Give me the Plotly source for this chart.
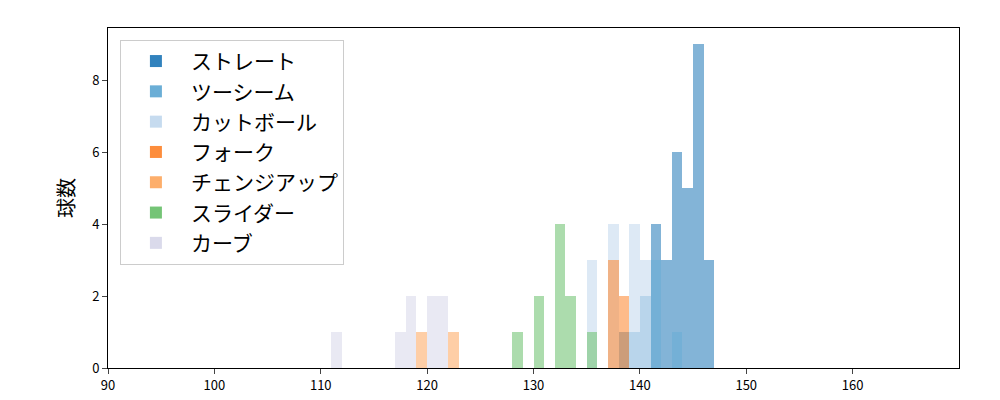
import plotly.graph_objects as go

# bin left edges (km/h) and counts per pitch type
straight_bins = [138, 141, 142, 143, 144, 145, 146]
straight_cnt = [1, 4, 3, 6, 5, 9, 3]
twoseam_bins = [139, 140, 141, 143]
twoseam_cnt = [1, 2, 3, 1]
cut_bins = [135, 137, 139, 140]
cut_cnt = [3, 4, 4, 3]
fork_bins = [137, 138]
fork_cnt = [3, 2]
change_bins = [119, 122]
change_cnt = [1, 1]
slider_bins = [128, 130, 132, 133, 135]
slider_cnt = [1, 2, 4, 2, 1]
curve_bins = [111, 117, 118, 120, 121]
curve_cnt = [1, 1, 2, 2, 2]

series = [
    ("ストレート", straight_bins, straight_cnt, "#3182bd"),
    ("ツーシーム", twoseam_bins, twoseam_cnt, "#6baed6"),
    ("カットボール", cut_bins, cut_cnt, "#c6dbef"),
    ("フォーク", fork_bins, fork_cnt, "#fd8d3c"),
    ("チェンジアップ", change_bins, change_cnt, "#fdae6b"),
    ("スライダー", slider_bins, slider_cnt, "#74c476"),
    ("カーブ", curve_bins, curve_cnt, "#dadaeb"),
]

fig = go.Figure()
for name, b, c, col in series:
    fig.add_trace(go.Bar(x=[v + 0.5 for v in b], y=c, width=1, name=name,
                         marker=dict(color=col, opacity=0.6, line=dict(width=0))))

font = "Noto Sans CJK JP"
fig.update_layout(
    width=1000, height=400, barmode="overlay", bargap=0,
    plot_bgcolor="white", paper_bgcolor="white",
    margin=dict(l=100, r=49, t=20, b=40, autoexpand=False),
    font=dict(family=font, size=13, color="#000"),
    showlegend=True,
    legend=dict(x=0.014, y=0.965, xanchor="left", yanchor="top",
                bgcolor="rgba(255,255,255,0.8)", bordercolor="#cccccc", borderwidth=1,
                font=dict(size=21, family=font), itemwidth=60),
    xaxis=dict(range=[90, 170], tickvals=[90, 100, 110, 120, 130, 140, 150, 160],
               ticks="outside", ticklen=5, showgrid=False, zeroline=False, automargin=False,
               showline=True, linecolor="#000", mirror=True, tickfont=dict(size=13)),
    yaxis=dict(range=[0, 9.45], tickvals=[0, 2, 4, 6, 8], ticks="outside", ticklen=5,
               showgrid=False, zeroline=False, showline=True, linecolor="#000", automargin=False,
               mirror=True, title=dict(text="球数", font=dict(size=20), standoff=12),
               tickfont=dict(size=13)),
)
fig.write_html("out.html")
